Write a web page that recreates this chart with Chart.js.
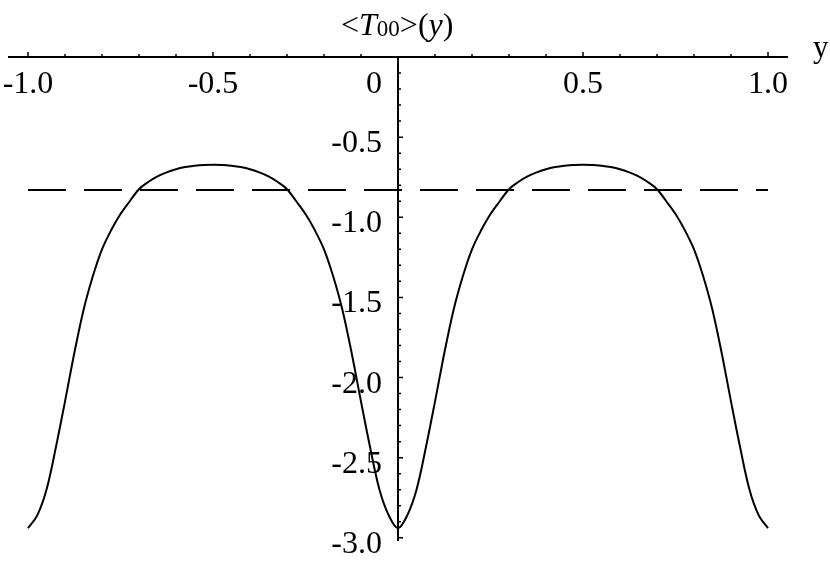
<!DOCTYPE html>
<html>
<head>
<meta charset="utf-8">
<script src="https://cdn.jsdelivr.net/npm/chart.js@4"></script>
<style>
  html, body { margin: 0; padding: 0; background: #fff; }
  #wrap { width: 830px; height: 567px; }
</style>
</head>
<body>
<div id="wrap"><canvas id="graph"></canvas></div>
<script>
const yPos = [
  -1.000, -0.975, -0.950, -0.925, -0.900, -0.875, -0.850, -0.825, -0.800, -0.775,
  -0.750, -0.725, -0.700, -0.675, -0.650, -0.625, -0.600, -0.575, -0.550, -0.525,
  -0.500, -0.475, -0.450, -0.425, -0.400, -0.375, -0.350, -0.325, -0.300, -0.275,
  -0.250, -0.225, -0.200, -0.175, -0.150, -0.125, -0.100, -0.075, -0.050, -0.025,
   0.000,  0.025,  0.050,  0.075,  0.100,  0.125,  0.150,  0.175,  0.200,  0.225,
   0.250,  0.275,  0.300,  0.325,  0.350,  0.375,  0.400,  0.425,  0.450,  0.475,
   0.500,  0.525,  0.550,  0.575,  0.600,  0.625,  0.650,  0.675,  0.700,  0.725,
   0.750,  0.775,  0.800,  0.825,  0.850,  0.875,  0.900,  0.925,  0.950,  0.975,
   1.000
];
const t00 = [
  -2.94, -2.86, -2.70, -2.44, -2.15, -1.85, -1.58, -1.37, -1.20, -1.08,
  -0.98, -0.90, -0.825, -0.78, -0.745, -0.72, -0.70, -0.687, -0.679, -0.674,
  -0.673, -0.674, -0.679, -0.687, -0.70, -0.72, -0.745, -0.78, -0.825, -0.90,
  -0.98, -1.08, -1.20, -1.37, -1.58, -1.85, -2.15, -2.44, -2.70, -2.86,
  -2.94, -2.86, -2.70, -2.44, -2.15, -1.85, -1.58, -1.37, -1.20, -1.08,
  -0.98, -0.90, -0.825, -0.78, -0.745, -0.72, -0.70, -0.687, -0.679, -0.674,
  -0.673, -0.674, -0.679, -0.687, -0.70, -0.72, -0.745, -0.78, -0.825, -0.90,
  -0.98, -1.08, -1.20, -1.37, -1.58, -1.85, -2.15, -2.44, -2.70, -2.86,
  -2.94
];
const avgY = [-1.0, 1.0];
const avgT = [-0.83, -0.83];

const xTicks = [-1.0, -0.5, 0.5, 1.0];
const xTickLabels = ["-1.0", "-0.5", "0.5", "1.0"];
const yTicks = [-0.5, -1.0, -1.5, -2.0, -2.5, -3.0];
const yTickLabels = ["-0.5", "-1.0", "-1.5", "-2.0", "-2.5", "-3.0"];

const serif = "'Liberation Serif', 'DejaVu Serif', serif";

// axes through the origin, drawn Mathematica-style
const crossAxes = {
  id: "crossAxes",
  afterDraw(chart) {
    const ctx = chart.ctx;
    const xs = chart.scales.x;
    const ys = chart.scales.y;
    const area = chart.chartArea;
    const x0 = xs.getPixelForValue(0);
    const y0 = ys.getPixelForValue(0);
    ctx.save();
    ctx.strokeStyle = "#000";
    ctx.fillStyle = "#000";

    ctx.lineWidth = 2;
    ctx.beginPath();
    ctx.moveTo(area.left, y0);
    ctx.lineTo(area.right, y0);
    ctx.moveTo(x0, y0);
    ctx.lineTo(x0, ys.getPixelForValue(ys.min));
    ctx.stroke();

    ctx.lineWidth = 1.5;
    ctx.beginPath();
    for (let i = -10; i <= 10; i++) {
      if (i === 0) continue;
      const px = xs.getPixelForValue(i / 10);
      const len = (i % 5 === 0) ? 5 : 3;
      ctx.moveTo(px, y0);
      ctx.lineTo(px, y0 - len);
    }
    for (let i = 1; i <= 30; i++) {
      const py = ys.getPixelForValue(-i / 10);
      const len = (i % 5 === 0) ? 5 : 3;
      ctx.moveTo(x0, py);
      ctx.lineTo(x0 + len, py);
    }
    ctx.stroke();

    ctx.font = "32px " + serif;
    ctx.textBaseline = "alphabetic";
    ctx.textAlign = "center";
    xTicks.forEach((v, i) => {
      ctx.fillText(xTickLabels[i], xs.getPixelForValue(v), y0 + 36);
    });
    ctx.textAlign = "right";
    ctx.fillText("0", x0 - 16, y0 + 36);
    yTicks.forEach((v, i) => {
      ctx.fillText(yTickLabels[i], x0 - 16, ys.getPixelForValue(v) + 15);
    });

    // axis label at the end of the horizontal axis
    ctx.textAlign = "left";
    ctx.font = "31px " + serif;
    ctx.fillText("y", 813, y0);

    // plot label <T00>(y)
    let tx = 341;
    const base = 35;
    const parts = [
      ["<", "32px " + serif, 0],
      ["T", "italic 32px " + serif, 0],
      ["00", "23px " + serif, 1],
      [">", "32px " + serif, 0],
      ["(", "32px " + serif, 0],
      ["y", "italic 32px " + serif, 0],
      [")", "32px " + serif, 0]
    ];
    parts.forEach(p => {
      ctx.font = p[1];
      ctx.fillText(p[0], tx, base + p[2]);
      tx += ctx.measureText(p[0]).width;
    });
    ctx.restore();
  }
};

const graph = document.getElementById("graph").getContext("2d");

let myChart = new Chart(graph, {
  type: "scatter",
  data: {
    datasets: [
      {
        label: "<T00>(y)",
        data: yPos.map((v, i) => ({ x: v, y: t00[i] })),
        showLine: true,
        borderColor: "#000",
        borderWidth: 2,
        pointRadius: 0,
        tension: 0.35,
        fill: false,
      },
      {
        label: "average",
        data: avgY.map((v, i) => ({ x: v, y: avgT[i] })),
        showLine: true,
        borderColor: "#000",
        borderWidth: 2,
        borderDash: [38, 18],
        pointRadius: 0,
        fill: false,
      },
    ],
  },
  options: {
    responsive: true,
    maintainAspectRatio: false,
    animation: false,
    layout: {
      padding: { left: 8, right: 42, top: 57, bottom: 26 },
    },
    scales: {
      x: { type: "linear", min: -1.054, max: 1.054, display: false },
      y: { type: "linear", min: -3.02, max: 0, display: false },
    },
    plugins: {
      legend: { display: false },
      tooltip: { enabled: false },
      title: { display: false },
    },
  },
  plugins: [crossAxes],
});
</script>
</body>
</html>
